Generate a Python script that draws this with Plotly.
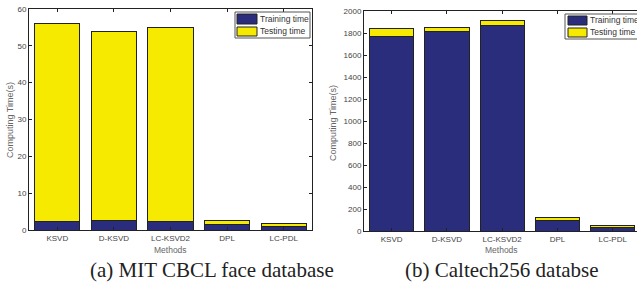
import plotly.graph_objects as go

methods = ["KSVD", "D-KSVD", "LC-KSVD2", "DPL", "LC-PDL"]
mit_train = [2.3, 2.5, 2.4, 1.5, 1.0]
mit_test = [53.7, 51.5, 52.6, 1.0, 0.7]
cal_train = [1770, 1810, 1865, 100, 30]
cal_test = [75, 40, 45, 25, 20]
series_names = ["Training time", "Testing time"]

NAVY = "#2a2c7c"
YEL = "#f5ea00"
FONT = "Liberation Sans"
TXT = "#444444"

fig = go.Figure()
xs = [1, 2, 3, 4, 5]
for (tr, te, xa, ya) in [(mit_train, mit_test, "x", "y"), (cal_train, cal_test, "x2", "y2")]:
    fig.add_trace(go.Bar(x=xs, y=tr, name=series_names[0], marker=dict(color=NAVY, line=dict(color="#222", width=1)),
                         width=0.8, xaxis=xa, yaxis=ya, showlegend=False))
    fig.add_trace(go.Bar(x=xs, y=te, name=series_names[1], marker=dict(color=YEL, line=dict(color="#222", width=1)),
                         width=0.8, xaxis=xa, yaxis=ya, showlegend=False))

W, H = 637, 287
def px(x): return x / W
def py(y): return 1 - y / H

axcommon = dict(showline=True, linecolor="#222", linewidth=1, ticks="inside",
                ticklen=3, tickcolor="#222", showgrid=False, zeroline=False, automargin=False,
                tickfont=dict(family=FONT, size=8, color=TXT))

fig.update_layout(
    width=W, height=H, margin=dict(l=0, r=0, t=0, b=0, autoexpand=False),
    paper_bgcolor="white", plot_bgcolor="white", barmode="stack",
    font=dict(family=FONT, size=8, color=TXT), showlegend=False,
    xaxis=dict(domain=[px(29), px(312)], range=[0.5, 5.5], tickvals=xs, ticktext=methods, anchor="y",
               mirror="ticks", **axcommon),
    yaxis=dict(domain=[py(230), py(9)], range=[0, 60], dtick=10, anchor="x", mirror="ticks", **axcommon),
    xaxis2=dict(domain=[px(364), 1.0], range=[0.5, 5.44], tickvals=xs, ticktext=methods, anchor="y2",
                mirror="ticks", **axcommon),
    yaxis2=dict(domain=[py(231), py(11)], range=[0, 2000], dtick=200, anchor="x2", mirror=False, **axcommon),
)

def txt(s, x, y, size=9, color="#666", family=FONT, angle=0, xanchor="center"):
    fig.add_annotation(text=s, x=px(x), y=py(y), xref="paper", yref="paper", showarrow=False,
                       textangle=angle, xanchor=xanchor, yanchor="middle",
                       font=dict(family=family, size=size, color=color))

# axis titles
txt("Computing Time(s)", 10, 120, angle=-90)
txt("Computing Time(s)", 333, 123, angle=-90)
txt("Methods", 170, 249.5, size=8.5)
txt("Methods", 501, 250, size=8.5)

# legends (manual, MATLAB style)
def legend(x0, y0, x1, y1, sx0, sx1, rows):
    fig.add_shape(type="rect", xref="paper", yref="paper", x0=px(x0), x1=px(x1), y0=py(y1), y1=py(y0),
                  line=dict(color="#555", width=1), fillcolor="white")
    for (ya, yb, col, name) in rows:
        fig.add_shape(type="rect", xref="paper", yref="paper", x0=px(sx0), x1=px(sx1), y0=py(yb), y1=py(ya),
                      line=dict(color="#222", width=1), fillcolor=col)
        txt(name, sx1 + 1, (ya + yb) / 2, size=8.5, color="#333", xanchor="left")

legend(235, 12, 310, 38, 237, 257, [(14, 24, NAVY, series_names[0]), (27, 36, YEL, series_names[1])])
legend(565, 14, 645, 39, 568, 587, [(16, 25, NAVY, series_names[0]), (28, 37, YEL, series_names[1])])

txt("(a) MIT CBCL face database", 212, 270, size=21, color="#222", family="Liberation Serif")
txt("(b) Caltech256 databse", 502, 270, size=21, color="#222", family="Liberation Serif")

fig.write_html("out.html", config={"displayModeBar": False},
               post_script="document.body.style.margin='0';document.body.style.overflow='hidden';")
